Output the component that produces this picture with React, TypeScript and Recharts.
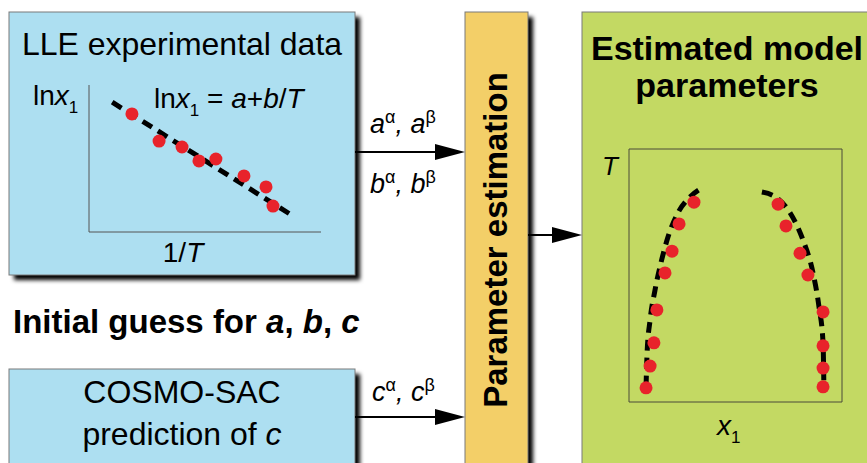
import React from 'react';
import { ScatterChart, Scatter, XAxis, YAxis, ReferenceArea, ReferenceLine } from 'recharts';

// left inset: ln x1 vs 1/T (arbitrary units)
const lleInvT = [1.85, 3.02, 4.01, 4.74, 5.47, 6.68, 7.63, 7.93];
const lleLnX = [4.82, 3.71, 3.47, 2.9, 2.98, 2.29, 1.84, 1.06];
const fitInvT = [1.0, 8.8];
const fitLnX = [5.3, 0.65];

// right inset: binodal T vs x1
const leftX = [0.08, 0.099, 0.117, 0.131, 0.169, 0.202, 0.235, 0.305];
const leftT = [292.8, 297.1, 301.7, 308.2, 315.5, 319.8, 325.2, 329.5];
const rightX = [0.7, 0.737, 0.803, 0.84, 0.911, 0.911, 0.911, 0.911];
const rightT = [329.1, 324.8, 319.4, 315.1, 307.8, 301.1, 296.7, 293.0];
const curveLX = [0.08, 0.085, 0.099, 0.122, 0.15, 0.183, 0.23, 0.286, 0.352];
const curveLT = [293.0, 299.7, 306.2, 312.1, 317.5, 322.6, 327.4, 330.5, 332.5];
const curveRX = [0.624, 0.695, 0.756, 0.817, 0.864, 0.892, 0.911, 0.915];
const curveRT = [331.5, 330.3, 327.4, 322.0, 315.5, 308.8, 301.7, 293.0];

const zip = (xs: number[], ys: number[]) => xs.map((x, i) => ({ x, y: ys[i] }));

const RED = '#e8232b';
const BLUE = '#addff1';
const YELLOW = '#f3cf68';
const GREEN = '#c3d963';
const FONT = '"Liberation Sans", Arial, Helvetica, sans-serif';

const dashLine = { stroke: '#000', strokeWidth: 5, strokeDasharray: '11 7' };
const noDot = () => <g />;

const Dot = (props: any) => <circle cx={props.cx} cy={props.cy} r={6.5} fill={RED} />;

const Arrow = ({ x1, x2, y }: { x1: number; x2: number; y: number }) => (
    <g>
        <line x1={x1} y1={y} x2={x2 - 26} y2={y} stroke="#000" strokeWidth={2} />
        <polygon points={`${x2},${y} ${x2 - 30},${y - 8} ${x2 - 30},${y + 8}`} fill="#000" />
    </g>
);

const Box = ({ x, y, w, h, fill }: { x: number; y: number; w: number; h: number; fill: string }) => (
    <g>
        <rect x={x + 5} y={y + 5} width={w} height={h} fill="#000" filter="url(#blur)" />
        <rect x={x} y={y} width={w} height={h} fill={fill} stroke="#7a7a7a" strokeWidth={1} />
    </g>
);

const LleChart = () => (
    <div style={{ position: 'absolute', left: 84, top: 80 }}>
        <ScatterChart width={242} height={157} margin={{ top: 5, right: 5, bottom: 5, left: 5 }}>
            <XAxis type="number" dataKey="x" domain={[0, 10]} hide />
            <YAxis type="number" dataKey="y" domain={[0, 6]} hide />
            <ReferenceLine x={0} stroke="#555" strokeWidth={1} />
            <ReferenceLine y={0} stroke="#555" strokeWidth={1} />
            <Scatter data={zip(fitInvT, fitLnX)} line={dashLine} lineType="joint" shape={noDot} isAnimationActive={false} />
            <Scatter data={zip(lleInvT, lleLnX)} shape={Dot} isAnimationActive={false} />
        </ScatterChart>
    </div>
);

const BinodalChart = () => (
    <div style={{ position: 'absolute', left: 624, top: 144 }}>
        <ScatterChart width={223} height={263} margin={{ top: 5, right: 5, bottom: 5, left: 5 }}>
            <XAxis type="number" dataKey="x" domain={[0, 1]} hide />
            <YAxis type="number" dataKey="y" domain={[290, 340]} hide />
            <ReferenceArea x1={0} x2={1} y1={290} y2={340} fill="none" fillOpacity={0} stroke="#4a4a3a" strokeWidth={1} />
            <Scatter data={zip(curveLX, curveLT)} line={dashLine} lineType="joint" lineJointType="monotoneX" shape={noDot} isAnimationActive={false} />
            <Scatter data={zip(curveRX, curveRT)} line={dashLine} lineType="joint" lineJointType="monotoneX" shape={noDot} isAnimationActive={false} />
            <Scatter data={zip(leftX, leftT)} shape={Dot} isAnimationActive={false} />
            <Scatter data={zip(rightX, rightT)} shape={Dot} isAnimationActive={false} />
        </ScatterChart>
    </div>
);

export default function App() {
    const sup = { fontSize: 18, fontStyle: 'normal' as const };
    return (
        <div style={{ position: 'absolute', left: 0, top: 0, width: 867, height: 463, overflow: 'hidden', background: '#fff', fontFamily: FONT }}>
            <svg width={867} height={463} style={{ position: 'absolute', left: 0, top: 0 }} fontFamily={FONT}>
                <defs>
                    <filter id="blur" x="-10%" y="-10%" width="120%" height="120%">
                        <feGaussianBlur stdDeviation="2" />
                    </filter>
                </defs>
                <Box x={9} y={12} w={346} h={263} fill={BLUE} />
                <Box x={9} y={369} w={346} h={110} fill={BLUE} />
                <Box x={465} y={12} w={63} h={470} fill={YELLOW} />
                <Box x={582} y={12} w={300} h={470} fill={GREEN} />

                <Arrow x1={355} x2={465} y={152} />
                <Arrow x1={355} x2={465} y={417} />
                <Arrow x1={528} x2={582} y={235} />

                <text x={182} y={55} fontSize={32} textAnchor="middle">LLE experimental data</text>
                <text x={33} y={105} fontSize={28}>ln<tspan fontStyle="italic">x</tspan><tspan fontSize={17} dy={8}>1</tspan></text>
                <text x={154} y={108} fontSize={28}>ln<tspan fontStyle="italic">x</tspan><tspan fontSize={17} dy={8}>1</tspan><tspan dy={-8}> = </tspan><tspan fontStyle="italic">a</tspan>+<tspan fontStyle="italic">b</tspan>/<tspan fontStyle="italic">T</tspan></text>
                <text x={183} y={262} fontSize={28} textAnchor="middle">1/<tspan fontStyle="italic">T</tspan></text>

                <text x={370} y={133} fontSize={27} fontStyle="italic">a<tspan {...sup} dy={-10}>α</tspan><tspan dy={10}>, a</tspan><tspan {...sup} dy={-10}>β</tspan></text>
                <text x={370} y={193} fontSize={27} fontStyle="italic">b<tspan {...sup} dy={-10}>α</tspan><tspan dy={10}>, b</tspan><tspan {...sup} dy={-10}>β</tspan></text>
                <text x={372} y={401} fontSize={27} fontStyle="italic">c<tspan {...sup} dy={-10}>α</tspan><tspan dy={10}>, c</tspan><tspan {...sup} dy={-10}>β</tspan></text>

                <text x={507} y={240} fontSize={33} fontWeight="bold" textAnchor="middle" transform="rotate(-90 507 240)">Parameter estimation</text>

                <text x={727} y={60} fontSize={34} fontWeight="bold" textAnchor="middle">Estimated model</text>
                <text x={727} y={97} fontSize={34} fontWeight="bold" textAnchor="middle">parameters</text>
                <text x={602} y={175} fontSize={26} fontStyle="italic">T</text>
                <text x={717} y={435} fontSize={28} fontStyle="italic">x<tspan fontSize={17} fontStyle="normal" dy={8}>1</tspan></text>

                <text x={13} y={333} fontSize={33} fontWeight="bold">Initial guess for <tspan fontStyle="italic">a</tspan>, <tspan fontStyle="italic">b</tspan>, <tspan fontStyle="italic">c</tspan></text>

                <text x={182} y={403} fontSize={32} textAnchor="middle">COSMO-SAC</text>
                <text x={182} y={445} fontSize={32} textAnchor="middle">prediction of <tspan fontStyle="italic">c</tspan></text>
            </svg>
            <LleChart />
            <BinodalChart />
        </div>
    );
}
